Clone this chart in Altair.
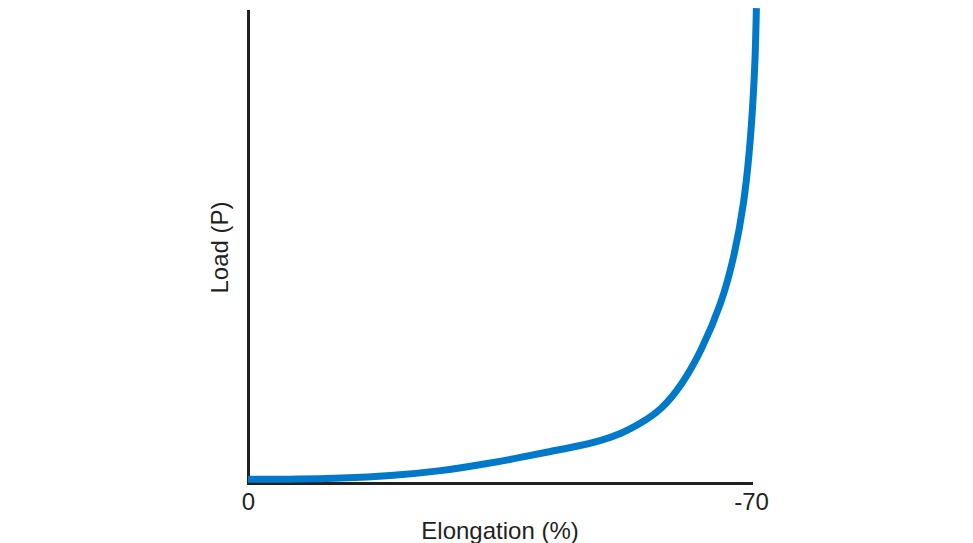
import altair as alt
import pandas as pd

# Curve (elongation %, load in relative units 0-100)
elongation = [0, -7.25, -12.8, -19.8, -26.8, -33.75, -37.9, -42.1, -46.3, -49.1,
              -51.9, -54.7, -57.45, -60.4, -63.0, -65.95, -67.75, -69.0, -69.75,
              -70.25, -70.6, -70.75]
load = [0.8, 0.8, 1.0, 1.5, 2.5, 4.2, 5.4, 6.7, 7.9, 9.0,
        10.4, 12.7, 15.4, 20.8, 27.7, 38.1, 48.5, 59.0, 69.4,
        79.8, 90.2, 100.6]
x_ticks = [0, -70]

df = pd.DataFrame({"Elongation": elongation, "Load": load, "order": range(len(load))})

FONT = "Liberation Sans"
DARK = "#231f20"

chart = alt.Chart(df).mark_line(
    color="#0079c8", strokeWidth=7, interpolate="basis", strokeCap="butt"
).encode(
    x=alt.X("Elongation:Q",
            scale=alt.Scale(domain=[-70, 0], reverse=True, nice=False, zero=False),
            axis=alt.Axis(title="Elongation (%)", values=x_ticks, ticks=False, grid=False,
                          labelFlush=False, labelPadding=7, titlePadding=5,
                          labelExpr="'' + datum.value")),
    y=alt.Y("Load:Q",
            scale=alt.Scale(domain=[0, 100], nice=False),
            axis=alt.Axis(title="Load (P)", labels=False, ticks=False, grid=False,
                          titlePadding=16)),
    order="order:Q",
).properties(
    width=503, height=472,
    autosize=alt.AutoSizeParams(type="none"),
    padding={"left": 240, "top": 3, "right": 200, "bottom": 62},
).configure_view(
    stroke=None
).configure_axis(
    domainColor=DARK, domainWidth=3, domainCap="square",
    labelFont=FONT, labelFontSize=24, labelColor=DARK,
    titleFont=FONT, titleFontSize=24, titleColor=DARK, titleFontWeight="normal",
)

chart.save("out.html", embed_options={"renderer": "svg", "actions": False})
